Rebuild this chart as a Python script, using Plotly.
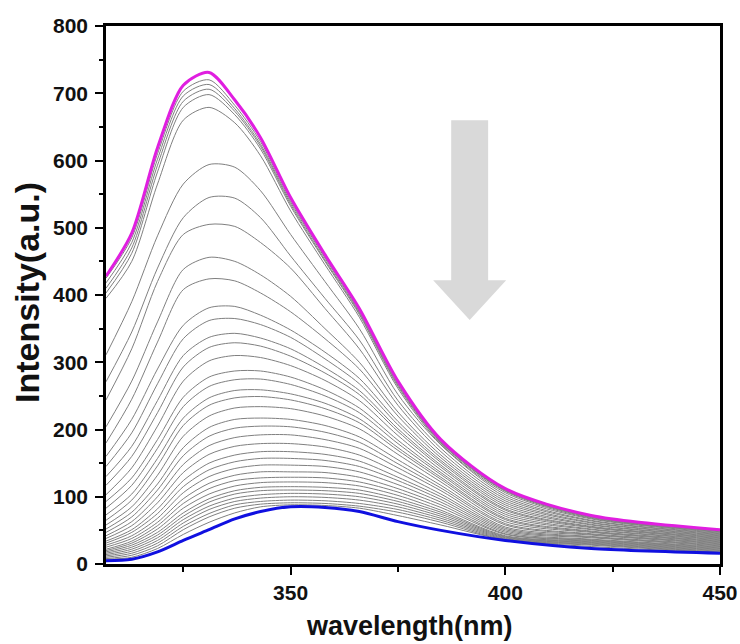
import plotly.graph_objects as go

wavelength = [307, 313, 319, 325, 331, 337, 343, 350, 358, 366, 375, 385, 400, 420, 450]

first_scan = [428, 492, 619, 712, 731, 690, 634, 545, 460, 380, 272, 185, 112, 72, 51]
last_scan = [5, 7, 18, 35, 51, 67, 78, 85, 84, 78, 63, 50, 35, 23, 16]

g01 = [425, 485, 610, 703, 720, 682, 628, 541, 457, 377, 270, 183, 111, 71, 50]
g02 = [418, 478, 602, 696, 713, 677, 624, 538, 455, 375, 268, 182, 110, 70, 50]
g03 = [410, 470, 593, 688, 706, 673, 621, 535, 452, 373, 266, 181, 109, 70, 49]
g04 = [403, 462, 583, 679, 698, 668, 617, 532, 450, 371, 264, 180, 108, 69, 49]
g05 = [395, 450, 565, 660, 679, 656, 607, 525, 445, 367, 261, 178, 106, 68, 48]
g06 = [311, 390, 488, 565, 594, 590, 555, 490, 420, 350, 252, 177, 103, 67, 47]
g07 = [271, 345, 440, 515, 545, 544, 515, 458, 395, 333, 243, 172, 100, 65, 46]
g08 = [244, 320, 420, 490, 505, 502, 478, 440, 380, 320, 236, 167, 97, 64, 45]
g09 = [204, 272, 360, 438, 456, 450, 430, 398, 350, 300, 226, 162, 94, 62, 44]
g10 = [180, 245, 330, 408, 424, 421, 403, 375, 335, 290, 220, 158, 91, 61, 43]
g11 = [160, 215, 290, 355, 381, 383, 370, 348, 315, 276, 212, 154, 88, 59, 42]
g12 = [145, 195, 268, 335, 362, 365, 356, 337, 305, 268, 207, 151, 85, 58, 41]
g13 = [130, 175, 243, 310, 337, 343, 336, 320, 292, 258, 201, 147, 82, 56, 40]
g14 = [117, 160, 225, 293, 322, 329, 324, 309, 284, 252, 197, 144, 80, 55, 39]
g15 = [103, 143, 205, 272, 302, 310, 307, 295, 273, 243, 191, 140, 77, 54, 38]
g16 = [93, 128, 185, 248, 278, 287, 287, 278, 259, 232, 184, 136, 74, 52, 37]
g17 = [83, 117, 172, 234, 264, 274, 275, 267, 250, 225, 179, 133, 71, 51, 36]
g18 = [73, 104, 157, 217, 247, 258, 259, 253, 239, 216, 173, 129, 68, 49, 35]
g19 = [65, 95, 146, 206, 236, 247, 249, 244, 231, 210, 169, 126, 66, 48, 34]
g20 = [58, 85, 132, 190, 220, 232, 234, 231, 220, 201, 163, 122, 63, 47, 33]
g21 = [52, 77, 119, 173, 203, 215, 217, 215, 206, 189, 155, 117, 60, 45, 32]
g22 = [47, 70, 110, 161, 190, 202, 205, 204, 196, 181, 149, 113, 58, 44, 31]
g23 = [42, 63, 100, 148, 176, 188, 192, 192, 185, 172, 143, 109, 55, 43, 30]
g24 = [38, 57, 91, 136, 163, 175, 179, 179, 174, 162, 136, 104, 53, 41, 29]
g25 = [34, 51, 82, 124, 150, 162, 167, 167, 163, 153, 129, 100, 51, 40, 28]
g26 = [31, 47, 75, 115, 140, 152, 157, 157, 154, 145, 124, 96, 49, 39, 27]
g27 = [28, 42, 68, 106, 130, 142, 147, 147, 145, 137, 118, 92, 47, 37, 26]
g28 = [25, 38, 62, 97, 120, 132, 137, 137, 136, 129, 112, 88, 45, 36, 25]
g29 = [22, 34, 57, 90, 112, 124, 128, 129, 128, 122, 107, 84, 44, 35, 24]
g30 = [20, 31, 52, 83, 104, 116, 121, 122, 121, 116, 102, 80, 42, 34, 23]
g31 = [18, 28, 47, 76, 97, 109, 114, 115, 114, 110, 97, 77, 41, 33, 22]
g32 = [16, 25, 43, 71, 92, 104, 109, 110, 109, 105, 93, 74, 40, 32, 21]
g33 = [14, 22, 39, 66, 86, 98, 103, 105, 104, 100, 89, 71, 39, 31, 20]
g34 = [12, 19, 35, 61, 81, 93, 98, 100, 99, 95, 85, 68, 38, 30, 19]
g35 = [10, 16, 31, 56, 75, 88, 93, 95, 94, 90, 81, 65, 37, 29, 18]
g36 = [8, 13, 27, 51, 70, 83, 89, 91, 90, 86, 77, 62, 36, 28, 17]
g37 = [7, 10, 23, 44, 62, 76, 85, 88, 87, 83, 72, 58, 36, 26, 17]

gray_scans = [g01, g02, g03, g04, g05, g06, g07, g08, g09, g10, g11, g12, g13,
              g14, g15, g16, g17, g18, g19, g20, g21, g22, g23, g24, g25, g26,
              g27, g28, g29, g30, g31, g32, g33, g34, g35, g36, g37]

x_tick_vals = [350, 400, 450]
y_tick_vals = [0, 100, 200, 300, 400, 500, 600, 700, 800]

fig = go.Figure()
for s in gray_scans:
    fig.add_trace(go.Scatter(x=wavelength, y=s, mode="lines",
                             line=dict(color="#808080", width=1, shape="spline", smoothing=0.8),
                             hoverinfo="skip", showlegend=False))
fig.add_trace(go.Scatter(x=wavelength, y=first_scan, mode="lines",
                         line=dict(color="#e01ee0", width=3, shape="spline", smoothing=0.8),
                         showlegend=False))
fig.add_trace(go.Scatter(x=wavelength, y=last_scan, mode="lines",
                         line=dict(color="#1010e0", width=3, shape="spline", smoothing=0.8),
                         showlegend=False))

# decorative arrow
fig.add_shape(type="path",
              path="M 387.4,660 L 396.0,660 L 396.0,422 L 400.2,422 L 391.7,363 L 383.2,422 L 387.4,422 Z",
              xref="x", yref="y", fillcolor="#d9d9d9", line=dict(width=0), layer="above")

FONT = "Liberation Sans, Arial, sans-serif"
tick_font = dict(family=FONT, size=21, color="#111111")

fig.update_xaxes(range=[307, 450], tickvals=x_tick_vals,
                 ticktext=["<b>%d</b>" % v for v in x_tick_vals],
                 ticks="outside", ticklen=8, tickwidth=2, tickcolor="black",
                 showline=True, linewidth=2.5, linecolor="black", mirror=True,
                 showgrid=False, zeroline=False, automargin=False,
                 ticklabeloverflow="allow",
                 tickfont=tick_font,
                 minor=dict(tickvals=[325, 375, 425], ticks="outside", ticklen=5, tickwidth=2, tickcolor="black"))
fig.update_yaxes(range=[0, 800], tickvals=y_tick_vals,
                 ticktext=["<b>%d</b>" % v for v in y_tick_vals],
                 ticks="outside", ticklen=8, tickwidth=2, tickcolor="black",
                 showline=True, linewidth=2.5, linecolor="black", mirror=True,
                 showgrid=False, zeroline=False, automargin=False,
                 ticklabeloverflow="allow", ticklabelstandoff=3,
                 tickfont=tick_font,
                 minor=dict(tickvals=[50, 150, 250, 350, 450, 550, 650, 750], ticks="outside",
                            ticklen=4, tickwidth=2, tickcolor="black"))

fig.add_annotation(text="<b>wavelength(nm)</b>", xref="paper", yref="paper",
                   x=0.495, y=-0.115, xanchor="center", yanchor="middle", showarrow=False,
                   font=dict(family=FONT, size=27, color="#111111"))
fig.add_annotation(text="<b>Intensity(a.u.)</b>", xref="paper", yref="paper",
                   x=-0.1287, y=0.5056, xanchor="center", yanchor="middle", showarrow=False,
                   textangle=-90,
                   font=dict(family=FONT, size=34, color="#111111"))

fig.update_layout(width=740, height=644, margin=dict(l=106, r=20, t=26, b=80),
                  plot_bgcolor="white", paper_bgcolor="white")

fig.write_html("out.html", config={"displayModeBar": False},
               post_script="document.body.style.margin='0';document.body.style.overflow='hidden';")
